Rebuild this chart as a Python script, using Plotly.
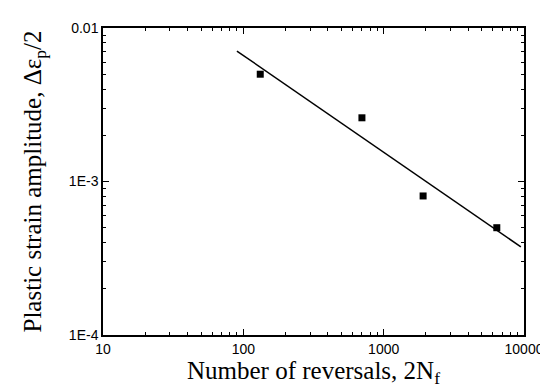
import plotly.graph_objects as go

# Data
reversals = [132, 700, 1910, 6400]
strain_amp = [5.0e-3, 2.6e-3, 8.05e-4, 5.0e-4]

fit_x = [90, 9500]
fit_y = [7.08e-3, 3.75e-4]

x_tickvals = [10, 100, 1000, 10000]
x_ticktext = ["10", "100", "1000", "10000"]
y_tickvals = [1e-4, 1e-3, 1e-2]
y_ticktext = ["1E-4", "1E-3", "0.01"]

fig = go.Figure()
fig.add_trace(go.Scatter(x=fit_x, y=fit_y, mode="lines",
                         line=dict(color="black", width=1.5), showlegend=False))
fig.add_trace(go.Scatter(x=reversals, y=strain_amp, mode="markers",
                         marker=dict(symbol="square", size=7, color="black"),
                         showlegend=False))

axis_common = dict(
    showline=True, linecolor="black", linewidth=1.5, mirror="ticks",
    ticks="inside", ticklen=6, tickwidth=1.2, tickcolor="black",
    showgrid=False, zeroline=False,
    tickfont=dict(family="Liberation Sans, Arial", size=14, color="black"),
    minor=dict(ticks="inside", ticklen=3, tickwidth=1, tickcolor="black",
               dtick="D1", showgrid=False),
)

title_font = dict(family="Liberation Serif, Times New Roman", size=25, color="black")

fig.update_xaxes(type="log", range=[1, 4], tickvals=x_tickvals, ticktext=x_ticktext,
                 title=dict(text="Number of reversals, 2N<sub>f</sub>",
                            font=title_font, standoff=2),
                 **axis_common)
fig.update_yaxes(type="log", range=[-4, -2], tickvals=y_tickvals, ticktext=y_ticktext,
                 title=dict(text="Plastic strain amplitude, Δε<sub>p</sub>/2",
                            font=title_font, standoff=20),
                 **axis_common)

fig.update_layout(width=548, height=390, margin=dict(l=95, r=31, t=16, b=63),
                  paper_bgcolor="white", plot_bgcolor="white")

fig.write_html("out.html")
